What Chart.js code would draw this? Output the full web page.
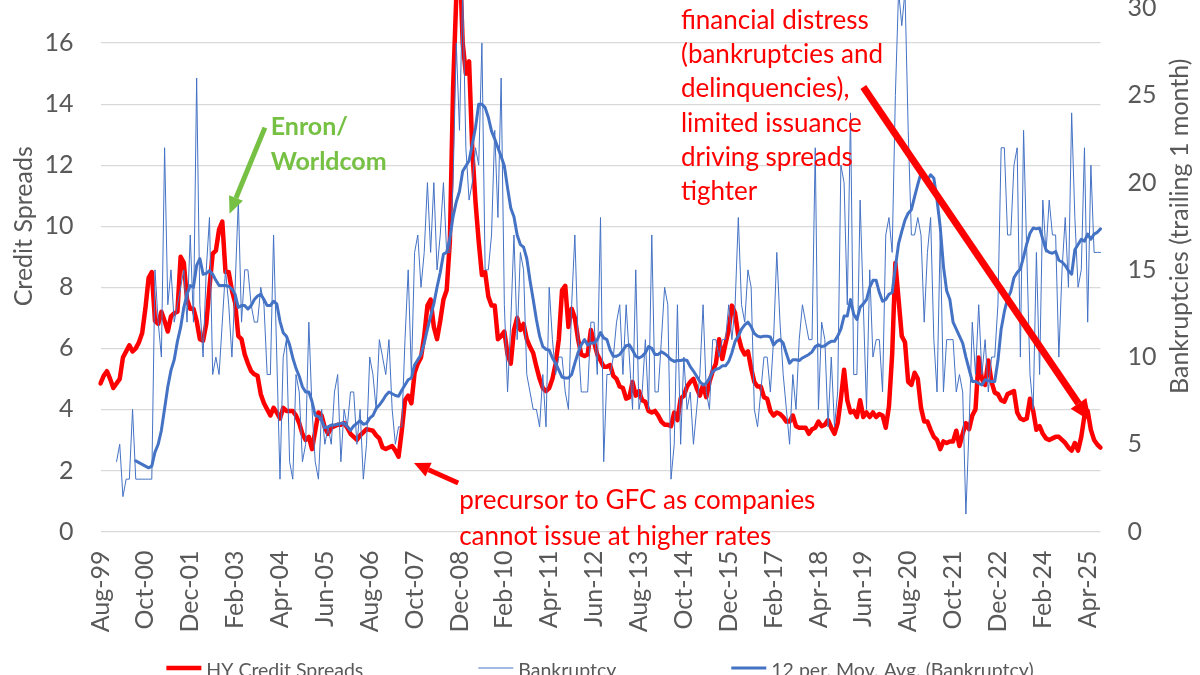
<!DOCTYPE html>
<html>
<head>
<meta charset="utf-8">
<title>HY Credit Spreads vs Bankruptcies</title>
<script src="https://cdn.jsdelivr.net/npm/chart.js@4.4.1/dist/chart.umd.min.js"></script>
<style>
  html, body { margin: 0; padding: 0; background: #fff; overflow: hidden; }
  body { width: 1200px; height: 675px; position: relative; }
  /* the picture is a crop: the plot goes on above the top edge */
  #wrap { position: absolute; left: 0; top: -120.8px; width: 1200px; height: 812px; }
</style>
</head>
<body>
<div id="wrap"><canvas id="spreadChart" width="1200" height="812"></canvas></div>
<script>
console.log("Chart script loaded");

// Months covered: Aug-99 -> Aug-25, one point per month
const monthNames = ['Jan','Feb','Mar','Apr','May','Jun','Jul','Aug','Sep','Oct','Nov','Dec'];
const firstYear = 1999, firstMonth = 7, monthCount = 313;
const months = [];
for (let i = 0; i < monthCount; i++) {
    const m = (firstMonth + i) % 12;
    const y = firstYear + Math.floor((firstMonth + i) / 12);
    months.push(monthNames[m] + '-' + String(y % 100).padStart(2, '0'));
}

// Labels shown on the x axis (every 14 months)
const tickLabels = ['Aug-99','Oct-00','Dec-01','Feb-03','Apr-04','Jun-05','Aug-06','Oct-07',
    'Dec-08','Feb-10','Apr-11','Jun-12','Aug-13','Oct-14','Dec-15','Feb-17','Apr-18',
    'Jun-19','Aug-20','Oct-21','Dec-22','Feb-24','Apr-25'];

// HY credit spreads (%), left axis
const hySpreads = [
    4.85, 5.1, 5.25, 5.0, 4.7, 4.85, 5.0, 5.7, 5.9, 6.1,
    5.9, 6.0, 6.2, 6.5, 7.3, 8.3, 8.5, 6.9, 6.8, 7.2,
    6.9, 6.55, 7.05, 7.15, 7.2, 9.0, 8.8, 7.6, 7.3, 7.3,
    6.9, 6.3, 6.25, 6.8, 8.0, 9.1, 9.2, 9.9, 10.15, 8.5,
    8.5, 7.9, 7.5, 6.4, 6.3, 5.8, 5.5, 5.25, 5.15, 5.1,
    4.5, 4.2, 4.0, 3.8, 4.05, 3.9, 3.7, 4.05, 3.95, 3.95,
    3.95, 3.8, 3.55, 3.2, 3.0, 3.1, 2.7, 3.3, 3.9, 3.8,
    3.4, 3.2, 3.4, 3.45, 3.5, 3.5, 3.55, 3.4, 3.2, 3.1,
    3.0, 3.15, 3.25, 3.35, 3.33, 3.3, 3.15, 3.05, 2.75, 2.7,
    2.75, 2.8, 2.65, 2.45, 3.3, 4.3, 4.45, 4.2, 5.2, 5.5,
    5.7, 6.4, 7.4, 7.6, 6.7, 6.3, 6.9, 7.6, 7.9, 9.5,
    14.5, 17.5, 19.0, 16.0, 15.0, 15.4, 12.5, 10.8, 9.5, 8.4,
    8.5, 7.7, 7.4, 7.4, 6.3, 6.4, 6.55, 5.8, 5.5, 6.6,
    7.0, 6.6, 6.8, 6.3, 6.05, 5.85, 5.4, 5.0, 4.7, 4.6,
    4.7, 5.0, 5.5, 6.3, 7.9, 8.05, 6.7, 7.3, 7.0, 6.3,
    5.8, 5.75, 5.8, 6.6, 6.2, 5.8, 5.6, 5.4, 5.4, 5.45,
    5.1, 5.0, 4.75, 4.7, 4.35, 4.4, 4.9, 4.45, 4.6, 4.3,
    4.25, 3.95, 3.9, 3.95, 3.8, 3.6, 3.5, 3.5, 3.45, 3.9,
    3.65, 4.35, 4.45, 4.75, 4.9, 5.0, 4.7, 4.45, 4.8, 4.4,
    4.9, 5.25, 5.5, 6.3, 5.65, 6.15, 6.6, 7.4, 7.15, 6.4,
    6.0, 5.8, 5.9, 5.35, 4.9, 4.75, 4.75, 4.4, 4.35, 3.95,
    3.8, 3.9, 3.85, 3.75, 3.6, 3.6, 3.8, 3.45, 3.4, 3.4,
    3.4, 3.2, 3.35, 3.4, 3.6, 3.45, 3.5, 3.65, 3.4, 3.2,
    3.55, 4.35, 5.3, 4.3, 3.9, 3.95, 3.75, 4.3, 3.75, 3.9,
    3.75, 3.9, 3.75, 3.85, 3.8, 3.4, 4.1, 5.8, 8.8, 7.6,
    6.4, 6.2, 4.9, 4.8, 5.2, 5.0, 4.05, 3.6, 3.6, 3.33,
    3.1, 3.0, 2.7, 2.95, 2.9, 2.95, 2.95, 3.3, 2.8, 3.2,
    3.55, 3.35, 3.8, 4.0, 5.7, 5.0, 4.8, 5.6, 4.9, 4.55,
    4.5, 4.3, 4.25, 4.5, 4.55, 4.6, 3.9, 3.7, 3.65, 3.7,
    4.35, 3.95, 3.33, 3.45, 3.2, 3.05, 3.0, 3.05, 3.1, 3.1,
    3.0, 2.9, 2.75, 2.65, 2.9, 2.65, 3.1, 3.8, 3.95, 3.33,
    3.0, 2.85, 2.75
];

// Bankruptcies in the month, right axis (series starts Jan-00)
const bankruptcies = [
    null, null, null, null, null, 4, 5, 2, 3, 3,
    7, 3, 3, 3, 3, 3, 3, 15, 12, 10,
    22, 13, 15, 12, 13, 14, 15, 12, 17, 12,
    26, 13, 10, 15, 18, 9, 10, 9, 12, 15,
    13, 10, 14, 19, 12, 15, 15, 13, 12, 12,
    14, 13, 9, 9, 17, 10, 3, 10, 11, 4,
    3, 9, 8, 4, 5, 12, 7, 4, 3, 7,
    5, 6, 5, 8, 9, 4, 7, 6, 8, 8,
    5, 7, 3, 5, 10, 9, 7, 11, 10, 9,
    11, 7, 5, 6, 6, 11, 15, 9, 16, 17,
    14, 16, 20, 16, 20, 15, 17, 20, 16, 16,
    20, 28, 23, 31, 22, 19, 20, 22, 21, 28,
    15, 15, 17, 23, 18, 26, 13, 8, 12, 17,
    11, 16, 15, 9, 8, 7, 7, 6, 9, 6,
    14, 11, 9, 10, 10, 8, 7, 13, 17, 11,
    8, 8, 8, 12, 12, 9, 18, 4, 9, 9,
    10, 12, 13, 9, 13, 10, 7, 15, 7, 8,
    11, 7, 17, 8, 8, 11, 14, 13, 3, 5,
    13, 5, 10, 7, 8, 5, 7, 9, 13, 8,
    7, 11, 11, 10, 11, 11, 13, 11, 13, 18,
    13, 12, 15, 14, 7, 6, 8, 10, 10, 8,
    11, 16, 12, 9, 7, 5, 9, 7, 11, 13,
    12, 11, 11, 22, 7, 12, 11, 6, 10, 6,
    8, 21, 20, 13, 24, 9, 9, 19, 13, 7,
    15, 10, 11, 11, 8, 17, 18, 16, 25, 31,
    29, 31, 23, 17, 17, 18, 17, 12, 16, 18,
    11, 8, 17, 8, 11, 11, 11, 8, 9, 8,
    1, 6, 12, 9, 13, 9, 11, 8, 10, 10,
    13, 22, 22, 17, 17, 21, 22, 10, 23, 16,
    9, 7, 16, 9, 19, 16, 19, 17, 17, 10,
    15, 18, 14, 24, 18, 14, 15, 22, 12, 21,
    16, 16, 16
];

// 12 period moving average of bankruptcies
const bankruptcyAvg = [
    null, null, null, null, null, null, null, null, null, null,
    null, 4.05, 3.95, 3.85, 3.75, 3.65, 3.75, 4.55, 5.0, 5.8,
    7.05, 8.3, 9.25, 9.85, 10.9, 11.7, 12.85, 13.6, 14.1, 14.0,
    15.25, 15.65, 14.75, 14.8, 14.95, 14.75, 14.4, 14.1, 14.1, 14.1,
    14.05, 13.9, 13.6, 12.85, 12.95, 12.95, 12.75, 12.95, 13.3, 13.5,
    13.6, 13.3, 12.95, 12.95, 13.2, 13.05, 12.05, 11.4, 11.2, 10.7,
    9.95, 9.35, 8.9, 8.3, 8.0, 8.0, 7.45, 6.65, 6.6, 6.35,
    5.95, 6.0, 6.1, 6.1, 6.15, 6.2, 6.2, 6.0, 5.8, 6.05,
    6.2, 6.35, 6.15, 6.2, 6.5, 6.65, 7.05, 7.25, 7.5, 7.8,
    8.0, 7.9, 7.8, 7.75, 8.1, 8.4, 8.7, 8.8, 9.55, 9.85,
    10.15, 10.8, 11.6, 12.35, 13.05, 14.0, 14.85, 15.9, 16.0, 16.8,
    18.05, 18.9, 19.5, 20.65, 20.95, 21.25, 22.2, 23.15, 24.5, 24.5,
    24.3, 23.75, 22.95, 22.5, 22.0, 21.5, 20.95, 19.7, 18.55, 18.05,
    17.0, 16.45, 16.3, 15.65, 14.4, 13.3, 12.15, 11.2, 10.6, 10.45,
    10.4, 9.95, 9.65, 9.25, 8.85, 8.8, 8.8, 9.0, 9.65, 10.25,
    10.7, 11.0, 10.7, 10.8, 10.8, 11.0, 11.4, 11.1, 11.0, 10.4,
    10.05, 10.05, 10.15, 10.4, 10.65, 10.7, 10.4, 10.05, 9.95, 10.05,
    10.25, 10.6, 10.5, 10.15, 10.15, 10.3, 10.2, 10.05, 9.85, 9.75,
    9.8, 9.8, 9.85, 9.8, 9.45, 9.2, 8.9, 8.6, 8.4, 8.5,
    8.8, 9.15, 9.3, 9.35, 9.5, 9.5, 9.75, 10.25, 10.9, 11.2,
    11.6, 11.85, 12.0, 11.75, 11.35, 11.2, 11.15, 11.2, 11.2, 11.15,
    10.7, 10.9, 11.0, 10.8, 10.2, 9.65, 9.85, 9.85, 9.8, 9.95,
    10.05, 10.15, 10.3, 10.6, 10.7, 10.6, 10.65, 10.8, 10.9, 10.9,
    11.2, 11.6, 12.35, 12.35, 13.3, 12.45, 12.15, 12.85, 13.05, 13.3,
    14.0, 14.4, 14.4, 13.7, 13.2, 13.3, 13.6, 13.7, 15.15, 16.5,
    17.2, 17.85, 18.25, 18.45, 19.2, 19.9, 20.55, 20.25, 20.15, 20.45,
    20.25, 19.0, 17.45, 15.2, 13.8, 13.3, 12.0, 11.6, 11.2, 10.8,
    10.0, 9.3, 8.6, 8.6, 8.5, 8.4, 8.7, 8.65, 8.6, 8.6,
    9.8, 11.6, 12.6, 13.35, 13.75, 14.55, 14.85, 15.05, 15.75, 16.5,
    17.1, 17.4, 17.35, 17.4, 16.75, 16.15, 16.0, 15.95, 16.05, 15.55,
    15.45, 15.25, 14.95, 14.75, 16.15, 16.45, 16.75, 16.65, 17.05, 16.75,
    17.05, 17.15, 17.35
];

// Annotations, anchored in data units: [month index, credit spread]
const notes = [
    { lines: ['Enron/', 'Worldcom'], at: [53.1, 13.0], lineHeight: 35, color: '#76c043', weight: 'bold', size: 25 },
    { lines: ['precursor to GFC as companies', 'cannot issue at higher rates'], at: [111.9, 0.73], lineHeight: 35.7, color: '#ff0000', weight: 'normal', size: 26 },
    { lines: ['financial distress', '(bankruptcies and', 'delinquencies),', 'limited issuance', 'driving spreads', 'tighter'],
      at: [181.1, 16.46], lineHeight: 34.2, color: '#ff0000', weight: 'normal', size: 26 }
];
const arrows = [
    { from: [51.3, 13.23], to: [40.25, 10.41], color: '#76c043', width: 5, head: 17, headWidth: 15 },
    { from: [111.6, 1.59], to: [97.8, 2.24], color: '#ff0000', width: 5, head: 16, headWidth: 15 },
    { from: [238.0, 14.56], to: [309.0, 3.6], color: '#ff0000', width: 7, head: 22, headWidth: 19 }
];

const textGrey = '#595959';
const gridGrey = '#d9d9d9';
const fontFamily = "Lato, 'Open Sans', sans-serif";

function drawArrow(ctx, a, b, color, width, head, headWidth) {
    const ang = Math.atan2(b[1] - a[1], b[0] - a[0]);
    const bx = b[0] - head * Math.cos(ang), by = b[1] - head * Math.sin(ang);
    const nx = Math.sin(ang) * headWidth / 2, ny = Math.cos(ang) * headWidth / 2;
    ctx.save();
    ctx.strokeStyle = color;
    ctx.fillStyle = color;
    ctx.lineWidth = width;
    ctx.beginPath();
    ctx.moveTo(a[0], a[1]);
    ctx.lineTo(bx, by);
    ctx.stroke();
    ctx.beginPath();
    ctx.moveTo(b[0], b[1]);
    ctx.lineTo(bx + nx, by - ny);
    ctx.lineTo(bx - nx, by + ny);
    ctx.closePath();
    ctx.fill();
    ctx.restore();
}

// Draws the annotations, the right axis title (Excel style, read bottom-up) and the legend
const extrasPlugin = {
    id: 'extras',
    afterDatasetsDraw(chart) {
        const ctx = chart.ctx;
        const xs = chart.scales.x, ys = chart.scales.y;
        const toPx = (p) => [xs.getPixelForValue(p[0]), ys.getPixelForValue(p[1])];

        arrows.forEach(a => drawArrow(ctx, toPx(a.from), toPx(a.to), a.color, a.width, a.head, a.headWidth));

        notes.forEach(n => {
            const p = toPx(n.at);
            ctx.save();
            ctx.fillStyle = n.color;
            ctx.font = n.weight + ' ' + n.size + 'px ' + fontFamily;
            ctx.textAlign = 'left';
            ctx.textBaseline = 'alphabetic';
            n.lines.forEach((line, k) => ctx.fillText(line, p[0], p[1] + k * n.lineHeight));
            ctx.restore();
        });
    },
    afterDraw(chart) {
        const ctx = chart.ctx;
        const area = chart.chartArea;

        // right axis title
        ctx.save();
        ctx.translate(1180, (area.top + area.bottom) / 2);
        ctx.rotate(-Math.PI / 2);
        ctx.fillStyle = textGrey;
        ctx.font = '25px ' + fontFamily;
        ctx.textAlign = 'center';
        ctx.textBaseline = 'middle';
        ctx.fillText('Bankruptcies (trailing 1 month)', 0, 0);
        ctx.restore();

        // legend, wide spacing like the Excel one
        ctx.save();
        ctx.font = '19.5px ' + fontFamily;
        const items = chart.data.datasets.map(ds => ({ text: ds.label, color: ds.borderColor, width: ds.borderWidth }));
        const sample = 35, gap = 5, spacing = 115;
        let total = (items.length - 1) * spacing;
        items.forEach(it => { it.w = ctx.measureText(it.text).width; total += sample + gap + it.w; });
        let x = chart.width / 2 - total / 2;
        const lineY = area.bottom + 136.5;
        items.forEach(it => {
            ctx.strokeStyle = it.color;
            ctx.lineWidth = it.width;
            ctx.beginPath();
            ctx.moveTo(x, lineY);
            ctx.lineTo(x + sample, lineY);
            ctx.stroke();
            ctx.fillStyle = textGrey;
            ctx.textBaseline = 'alphabetic';
            ctx.fillText(it.text, x + sample + gap, area.bottom + 145);
            x += sample + gap + it.w + spacing;
        });
        ctx.restore();
    }
};

function drawChart() {
    Chart.defaults.font.family = fontFamily;
    Chart.defaults.color = textGrey;
    const ctx = document.getElementById('spreadChart').getContext('2d');

    new Chart(ctx, {
        type: 'line',
        data: {
            labels: months,
            datasets: [
                {
                    label: 'HY Credit Spreads',
                    data: hySpreads,
                    yAxisID: 'y',
                    borderColor: '#ff0000',
                    borderWidth: 4.5,
                    order: 3
                },
                {
                    label: 'Bankruptcy',
                    data: bankruptcies,
                    yAxisID: 'y1',
                    borderColor: '#4472c4',
                    borderWidth: 1,
                    order: 2
                },
                {
                    label: '12 per. Mov. Avg. (Bankruptcy)',
                    data: bankruptcyAvg,
                    yAxisID: 'y1',
                    borderColor: '#4472c4',
                    borderWidth: 3,
                    order: 1
                }
            ]
        },
        options: {
            responsive: false,
            animation: false,
            events: [],
            // the y axes ask for 15 + 27 px above the plot; keep it at exactly that
            layout: { padding: { top: 42, left: 0, right: 0, bottom: 0 } },
            elements: {
                point: { radius: 0 },
                line: { tension: 0, borderJoinStyle: 'round', borderCapStyle: 'round', fill: false }
            },
            plugins: {
                legend: { display: false },
                tooltip: { enabled: false }
            },
            scales: {
                x: {
                    type: 'category',
                    offset: false,
                    grid: { display: false, drawTicks: false },
                    border: { display: false },
                    ticks: {
                        autoSkip: false,
                        minRotation: 90,
                        maxRotation: 90,
                        padding: 19,
                        color: textGrey,
                        font: { size: 25 }
                    },
                    afterBuildTicks: (scale) => {
                        scale.ticks = scale.ticks.filter(t => tickLabels.includes(months[t.value]));
                    },
                    afterFit: (scale) => { scale.height = 159.5; }
                },
                y: {
                    position: 'left',
                    min: 0,
                    max: 20,
                    grid: { color: gridGrey, lineWidth: 1.2, drawTicks: false },
                    border: { display: false },
                    ticks: { stepSize: 2, padding: 27, color: textGrey, font: { size: 25 } },
                    title: {
                        display: true,
                        text: 'Credit Spreads',
                        color: textGrey,
                        font: { size: 25 },
                        padding: { top: 9, bottom: 0 }
                    },
                    afterFit: (scale) => { scale.width = 100.5; }
                },
                y1: {
                    position: 'right',
                    min: 0,
                    max: 35,
                    grid: { drawOnChartArea: false, drawTicks: false },
                    border: { display: false },
                    ticks: { stepSize: 5, padding: 27, color: textGrey, font: { size: 25 } },
                    afterFit: (scale) => { scale.width = 99.5; }
                }
            }
        },
        plugins: [extrasPlugin]
    });
}

// wait for the installed font before drawing on the canvas
Promise.all([
    document.fonts.load('25px Lato'),
    document.fonts.load('bold 25px Lato')
]).then(drawChart, drawChart);
</script>
</body>
</html>
